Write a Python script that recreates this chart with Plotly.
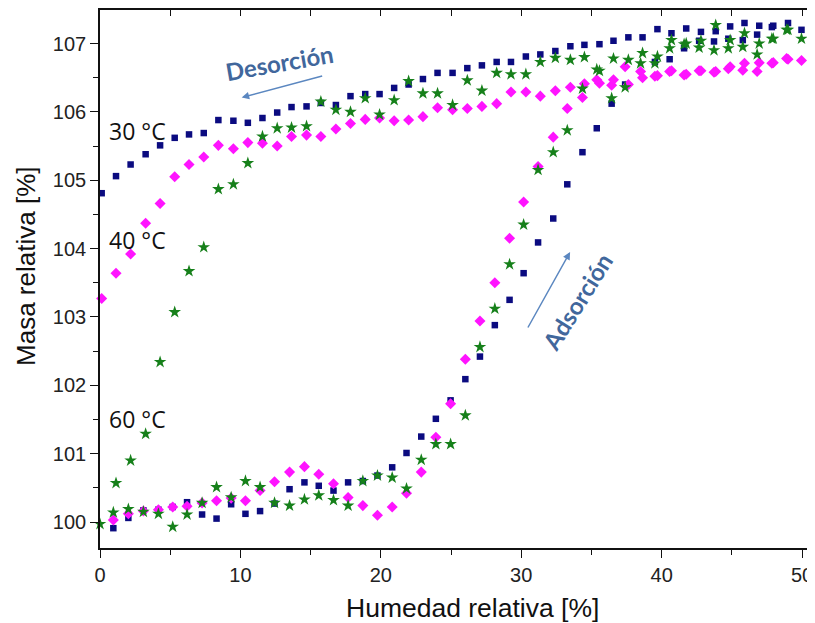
import plotly.graph_objects as go

# Relative humidity grid (adsorption branch, increasing RH)
rh_ads = [0.0, 0.95, 2.02, 3.09, 4.16, 5.18, 6.2, 7.27, 8.3, 9.34, 10.36, 11.4, 12.43, 13.5,
          14.56, 15.58, 16.63, 17.67, 18.72, 19.76, 20.81, 21.83, 22.88, 23.92, 24.97, 26.02,
          27.06, 28.12, 29.17, 30.17, 31.2, 32.28, 33.28, 34.36, 35.38, 36.44, 37.4, 38.5,
          39.52, 40.57, 41.6, 42.67, 43.73, 44.75, 45.78, 46.8, 47.85, 48.9, 49.96]
# Relative humidity grid (desorption branch)
rh_des = [0.12, 1.14, 2.18, 3.25, 4.28, 5.32, 6.34, 7.39, 8.43, 9.5, 10.53, 11.57, 12.62, 13.64,
          14.71, 15.73, 16.8, 17.84, 18.89, 19.91, 20.95, 21.98, 23.0, 24.04, 25.11, 26.16,
          27.2, 28.25, 29.27, 30.33, 31.36, 32.43, 33.5, 34.5, 35.57, 36.57, 37.63, 38.64,
          39.7, 40.7, 41.75, 42.8, 43.85, 44.88, 45.9, 46.95, 47.95, 49.0]

m30_ads = [None, 99.91, 100.06, 100.17, 100.18, 100.22, 100.29, 100.11, 100.05, 100.26, 100.12,
           100.16, 100.27, 100.48, 100.58, 100.53, 100.46, 100.58, 100.60, 100.68, 100.80,
           101.01, 101.25, 101.51, 101.78, 102.09, 102.42, 102.88, 103.25, 103.64, 104.09,
           104.44, 104.94, 105.41, 105.76, 106.12, 106.40, None, 106.73, 106.77, 106.93,
           107.04, 107.03, 107.07, 107.05, 107.13, 107.24, None, 107.20]
m30_des = [104.81, 105.06, 105.23, 105.38, 105.51, 105.62, 105.67, 105.69, 105.88, 105.87,
           105.84, 105.91, 105.99, 106.07, 106.08, 106.13, 106.10, 106.23, 106.26, 106.26,
           106.35, 106.40, 106.48, 106.57, 106.57, 106.64, 106.68, 106.73, 106.73, 106.81,
           106.84, 106.89, 106.96, 106.98, 106.99, 107.04, 107.09, 107.09, 107.21, 107.15,
           107.22, 107.17, 107.18, 107.25, 107.30, 107.26, 107.26, 107.30]

m40_ads = [None, 100.03, 100.12, 100.16, 100.18, 100.22, 100.23, 100.28, 100.31, 100.35, 100.31,
           100.46, 100.59, 100.73, 100.81, 100.70, 100.56, 100.36, 100.24, 100.10, 100.22,
           100.42, 100.73, 101.24, 101.73, 102.38, 102.94, 103.50, 104.15, 104.68, 105.20,
           105.63, 106.05, 106.21, 106.47, 106.39, 106.66, 106.59, 106.52, 106.59, 106.54,
           106.60, 106.58, 106.63, 106.61, 106.59, 106.71, 106.78, 106.75]
m40_des = [103.27, 103.64, 103.92, 104.37, 104.66, 105.05, 105.23, 105.34, 105.51, 105.46,
           105.55, 105.54, 105.50, 105.64, 105.66, 105.64, 105.75, 105.83, 105.89, 105.91,
           105.87, 105.88, 105.93, 106.06, 106.03, 106.05, 106.08, 106.12, 106.29, 106.29,
           106.23, 106.31, 106.36, 106.41, 106.42, 106.47, 106.40, 106.50, 106.53, 106.60,
           106.55, 106.60, 106.59, 106.66, 106.71, 106.72, 106.72, 106.77]

m60_ads = [99.97, 100.14, 100.19, 100.15, 100.12, 99.93, 100.11, 100.28, 100.51, 100.36, 100.60,
           100.51, 100.28, 100.24, 100.33, 100.39, 100.32, 100.24, 100.60, 100.68, 100.65,
           100.49, 100.91, 101.14, 101.14, 101.56, 102.56, 103.12, 103.77, 104.35, 105.15,
           105.41, 105.73, 106.34, 106.62, 106.20, 106.36, 106.71, 106.71, 106.93, 106.99,
           106.94, 106.90, 106.93, 106.95, 106.84, 107.07, 107.20, 107.07]
m60_des = [None, 100.57, 100.90, 101.29, 102.34, 103.07, 103.67, 104.02, 104.87, 104.94,
           105.25, 105.64, 105.76, 105.77, 105.79, 106.15, 106.03, 106.00, 106.20, 105.96,
           106.17, 106.45, 106.27, 106.27, 106.10, 106.46, 106.31, 106.57, 106.55, 106.55,
           106.73, 106.79, 106.76, 106.80, 106.60, 106.78, 106.76, 106.86, 106.81, 107.05,
           107.00, 107.04, 107.27, 107.05, 107.15, 107.00, 107.07, 107.20]

series = [
    ("30 °C", m30_ads, m30_des, "#0b0b80", "square", 6.5),
    ("40 °C", m40_ads, m40_des, "#ff14ff", "diamond", 8.5),
    ("60 °C", m60_ads, m60_des, "#16801a", "star", 9.5),
]

fig = go.Figure()
for name, ya, yd, col, sym, sz in series:
    fig.add_trace(go.Scatter(
        x=rh_ads + rh_des, y=ya + yd, mode="markers", name=name,
        marker=dict(color=col, symbol=sym, size=sz, line=dict(width=0)),
        showlegend=False, cliponaxis=False))

tickfont = dict(family="Liberation Sans, Arial, sans-serif", size=20, color="#222")
titlefont = dict(family="Liberation Sans, Arial, sans-serif", size=26.5, color="#111")
XR = [0, 50.78]
YR = [99.62, 107.49]

# page body has an 8px margin, so the figure is sized/offset to compensate
fig.update_layout(
    width=807, height=615,
    margin=dict(l=92, r=2, t=2, b=75),
    plot_bgcolor="white", paper_bgcolor="white",
    xaxis=dict(range=XR, showgrid=False, zeroline=False, showline=True, linecolor="#111",
               linewidth=1.6, ticks="outside", ticklen=8, tickwidth=1.4, tickcolor="#111",
               dtick=10, tick0=0, tickfont=tickfont, automargin=False,
               minor=dict(dtick=5, tick0=0, ticks="outside", ticklen=5, tickwidth=1.2, tickcolor="#111")),
    xaxis2=dict(range=XR, overlaying="x", side="top", showgrid=False, zeroline=False,
                showline=True, linecolor="#111", linewidth=1.6, ticks="inside", ticklen=6,
                tickwidth=1.4, tickcolor="#111", dtick=5, tick0=0, showticklabels=False,
                automargin=False),
    yaxis=dict(range=YR, showgrid=False, zeroline=False, showline=True, linecolor="#111",
               linewidth=1.6, ticks="outside", ticklen=8, tickwidth=1.4, tickcolor="#111",
               dtick=1, tick0=100, tickfont=tickfont, mirror=True, automargin=False,
               minor=dict(dtick=0.5, tick0=100, ticks="outside", ticklen=5, tickwidth=1.2, tickcolor="#111")),
)
fig.add_trace(go.Scatter(x=[None], y=[None], xaxis="x2", showlegend=False, hoverinfo="skip"))

# axis titles (placed as annotations to match the reference offsets)
fig.add_annotation(xref="paper", yref="paper", x=0.522, y=-0.112, text="Humedad relativa [%]",
                   showarrow=False, xanchor="center", yanchor="middle", font=titlefont)
fig.add_annotation(xref="paper", yref="paper", x=-0.104, y=0.524, text="Masa relativa [%]",
                   showarrow=False, xanchor="center", yanchor="middle", textangle=-90,
                   font=dict(titlefont, size=26))

annfont = dict(family="Lato, Open Sans, sans-serif", size=24, color="#41679c")
labfont = dict(family="Open Sans, Lato, sans-serif", size=23, color="#111")
fig.add_annotation(x=12.75, y=106.72, text="<b>Desorción</b>", showarrow=False,
                   textangle=-10, font=annfont)
fig.add_annotation(x=10.09, y=106.21, ax=82, ay=-22, axref="pixel", ayref="pixel",
                   text="", showarrow=True, arrowhead=2, arrowsize=1, arrowwidth=1.5,
                   arrowcolor="#5b87c0")
fig.add_annotation(x=34.0, y=103.22, text="<b>Adsorción</b>", showarrow=False,
                   textangle=-58, font=annfont)
fig.add_annotation(x=33.48, y=103.95, ax=-43, ay=77, text="", showarrow=True, arrowhead=2,
                   arrowsize=1, arrowwidth=1.5, arrowcolor="#5b87c0")
for lab, yv in [("30 °C", 105.72), ("40 °C", 104.12), ("60 °C", 101.50)]:
    fig.add_annotation(x=0.5, y=yv, text=lab, showarrow=False, xanchor="left", font=labfont)

fig.write_html("out.html")
